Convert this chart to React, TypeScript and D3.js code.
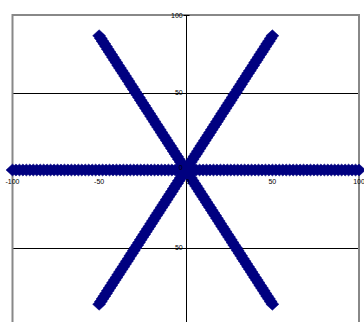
import React, { useEffect, useRef } from 'react'
import * as d3 from 'd3'

// horizontal series (angle 0)
const flatX = [-100,-98,-96,-94,-92,-90,-88,-86,-84,-82,-80,-78,-76,-74,-72,-70,-68,-66,-64,-62,-60,-58,-56,-54,-52,-50,-48,-46,-44,-42,-40,-38,-36,-34,-32,-30,-28,-26,-24,-22,-20,-18,-16,-14,-12,-10,-8,-6,-4,-2,0,2,4,6,8,10,12,14,16,18,20,22,24,26,28,30,32,34,36,38,40,42,44,46,48,50,52,54,56,58,60,62,64,66,68,70,72,74,76,78,80,82,84,86,88,90,92,94,96,98,100]
const flatY = flatX.map(() => 0)

// diagonal series (angles 60 and 120)
const diagX = [-50,-49,-48,-47,-46,-45,-44,-43,-42,-41,-40,-39,-38,-37,-36,-35,-34,-33,-32,-31,-30,-29,-28,-27,-26,-25,-24,-23,-22,-21,-20,-19,-18,-17,-16,-15,-14,-13,-12,-11,-10,-9,-8,-7,-6,-5,-4,-3,-2,-1,0,1,2,3,4,5,6,7,8,9,10,11,12,13,14,15,16,17,18,19,20,21,22,23,24,25,26,27,28,29,30,31,32,33,34,35,36,37,38,39,40,41,42,43,44,45,46,47,48,49,50]
const upY = [-86.6,-84.9,-83.1,-81.4,-79.7,-77.9,-76.2,-74.5,-72.7,-71.0,-69.3,-67.5,-65.8,-64.1,-62.4,-60.6,-58.9,-57.2,-55.4,-53.7,-52.0,-50.2,-48.5,-46.8,-45.0,-43.3,-41.6,-39.8,-38.1,-36.4,-34.6,-32.9,-31.2,-29.4,-27.7,-26.0,-24.2,-22.5,-20.8,-19.1,-17.3,-15.6,-13.9,-12.1,-10.4,-8.7,-6.9,-5.2,-3.5,-1.7,0,1.7,3.5,5.2,6.9,8.7,10.4,12.1,13.9,15.6,17.3,19.1,20.8,22.5,24.2,26.0,27.7,29.4,31.2,32.9,34.6,36.4,38.1,39.8,41.6,43.3,45.0,46.8,48.5,50.2,52.0,53.7,55.4,57.2,58.9,60.6,62.4,64.1,65.8,67.5,69.3,71.0,72.7,74.5,76.2,77.9,79.7,81.4,83.1,84.9,86.6]
const downY = [86.6,84.9,83.1,81.4,79.7,77.9,76.2,74.5,72.7,71.0,69.3,67.5,65.8,64.1,62.4,60.6,58.9,57.2,55.4,53.7,52.0,50.2,48.5,46.8,45.0,43.3,41.6,39.8,38.1,36.4,34.6,32.9,31.2,29.4,27.7,26.0,24.2,22.5,20.8,19.1,17.3,15.6,13.9,12.1,10.4,8.7,6.9,5.2,3.5,1.7,0,-1.7,-3.5,-5.2,-6.9,-8.7,-10.4,-12.1,-13.9,-15.6,-17.3,-19.1,-20.8,-22.5,-24.2,-26.0,-27.7,-29.4,-31.2,-32.9,-34.6,-36.4,-38.1,-39.8,-41.6,-43.3,-45.0,-46.8,-48.5,-50.2,-52.0,-53.7,-55.4,-57.2,-58.9,-60.6,-62.4,-64.1,-65.8,-67.5,-69.3,-71.0,-72.7,-74.5,-76.2,-77.9,-79.7,-81.4,-83.1,-84.9,-86.6]

const xTicks = [-100, -50, 0, 50, 100]
const yTicks = [100, 50, 0, -50, -100]

export default function App() {
    const svgRef = useRef(null)

    useEffect(() => {
        document.body.style.margin = '0'

        const xScale = d3.scaleLinear().domain([-100, 100]).range([12.5, 359])
        const yScale = d3.scaleLinear().domain([-100, 100]).range([325, 15])

        const svg = d3.select(svgRef.current)
        svg.selectAll('*').remove()

        // gridlines
        svg.append('g')
            .selectAll('line')
            .data([50, -50])
            .join('line')
            .attr('x1', xScale(-100)).attr('x2', xScale(100))
            .attr('y1', d => Math.round(yScale(d)) + 0.5).attr('y2', d => Math.round(yScale(d)) + 0.5)
            .attr('stroke', '#000').attr('stroke-width', 1)

        // plot frame
        svg.append('rect')
            .attr('x', xScale(-100)).attr('y', yScale(100))
            .attr('width', xScale(100) - xScale(-100))
            .attr('height', yScale(-100) - yScale(100))
            .attr('fill', 'none').attr('stroke', '#888').attr('stroke-width', 2)

        const x0 = Math.round(xScale(0)) + 0.5
        const y0 = Math.round(yScale(0)) + 0.5

        // axes
        svg.append('line')
            .attr('x1', x0).attr('x2', x0)
            .attr('y1', yScale(100)).attr('y2', yScale(-100))
            .attr('stroke', '#000')
        svg.append('line')
            .attr('x1', xScale(-100)).attr('x2', xScale(100))
            .attr('y1', y0).attr('y2', y0)
            .attr('stroke', '#000')

        // tick marks
        svg.append('g').selectAll('line')
            .data(yTicks)
            .join('line')
            .attr('x1', x0 - 3).attr('x2', x0 + 3)
            .attr('y1', d => Math.round(yScale(d)) + 0.5).attr('y2', d => Math.round(yScale(d)) + 0.5)
            .attr('stroke', '#000')

        const font = 'Liberation Sans, Arial, sans-serif'

        // y labels
        svg.append('g').selectAll('text')
            .data(yTicks.filter(d => d !== 0))
            .join('text')
            .attr('x', xScale(0) - 3)
            .attr('y', d => yScale(d) + 2.5)
            .attr('text-anchor', 'end')
            .attr('font-family', font)
            .attr('font-size', 7)
            .attr('fill', '#000')
            .text(d => d)

        // x labels
        svg.append('g').selectAll('text')
            .data(xTicks.filter(d => d !== 0))
            .join('text')
            .attr('x', d => xScale(d))
            .attr('y', yScale(0) + 13.5)
            .attr('text-anchor', 'middle')
            .attr('font-family', font)
            .attr('font-size', 7)
            .attr('fill', '#000')
            .text(d => d)

        // diamond markers
        const diamond = 'M0,-6L6.5,0L0,6L-6.5,0Z'
        const series = [
            flatX.map((x, i) => [x, flatY[i]]),
            diagX.map((x, i) => [x, upY[i]]),
            diagX.map((x, i) => [x, downY[i]])
        ]
        series.forEach(pts => {
            svg.append('g').selectAll('path')
                .data(pts)
                .join('path')
                .attr('d', diamond)
                .attr('transform', d => `translate(${xScale(d[0])},${yScale(d[1])})`)
                .attr('fill', '#000080')
                .attr('stroke', '#000080')
                .attr('stroke-width', 0.5)
        })

        // zero labels drawn on top of markers
        svg.append('text')
            .attr('x', xScale(0) - 3).attr('y', yScale(0) - 0.5)
            .attr('text-anchor', 'end')
            .attr('font-family', font).attr('font-size', 7)
            .text('0')
        svg.append('text')
            .attr('x', xScale(0) + 2).attr('y', yScale(0) + 13.5)
            .attr('text-anchor', 'middle')
            .attr('font-family', font).attr('font-size', 7)
            .text('0')
    }, [])

    return (
        <div>
            <svg width="364" height="322" ref={svgRef} style={{ display: 'block' }}></svg>
        </div>
    )
}
